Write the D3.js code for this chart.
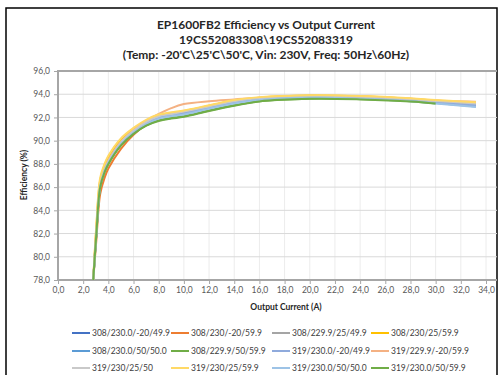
<!DOCTYPE html>
<html>
<head>
<meta charset="utf-8">
<script src="https://d3js.org/d3.v7.min.js"></script>
<style>
  body { margin: 0; background: #fff; }
  text { font-family: Lato, "Open Sans", sans-serif; }
</style>
</head>
<body>
<svg width="499" height="375"></svg>
<script>
// output current (A) sample points
var current = [2.8, 3.05, 3.35, 3.7, 4, 5, 6, 7, 8, 9, 10, 12, 14, 16, 20, 24, 28, 30, 33.2];

var names = ["308/230.0/-20/49.9", "308/230/-20/59.9", "308/229.9/25/49.9", "308/230/25/59.9",
             "308/230.0/50/50.0", "308/229.9/50/59.9", "319/230.0/-20/49.9", "319/229.9/-20/59.9",
             "319/230/25/50", "319/230/25/59.9", "319/230.0/50/50.0", "319/230.0/50/59.9"];
var colors = ["#4472C4", "#ED7D31", "#A5A5A5", "#FFC000", "#5B9BD5", "#70AD47",
              "#8FAADC", "#F4B183", "#C9C9C9", "#FFD966", "#9DC3E6", "#70AD47"];

// efficiency (%) per series
var s1  = [78.0, 82.2, 86.2, 87.5, 88.2, 89.8, 90.8, 91.5, 92.0, 92.2, 92.4, 92.9, 93.35, 93.6, 93.8, 93.72, 93.5, 93.35, 93.1];
var s2  = [78.0, 81.5, 85.4, 86.8, 87.6, 89.3, 90.5, 91.4, 92.0, 92.25, 92.45, 92.95, 93.4, 93.65, 93.82, 93.75, 93.55, 93.4, 93.2];
var s3  = [78.0, 82.0, 86.1, 87.4, 88.1, 89.8, 90.8, 91.55, 92.05, 92.25, 92.45, 92.95, 93.35, 93.65, 93.82, 93.75, 93.55, 93.4, 93.15];
var s4  = [78.0, 82.6, 86.6, 87.9, 88.6, 90.1, 91.0, 91.7, 92.15, 92.35, 92.55, 93.0, 93.45, 93.7, 93.88, 93.82, 93.62, 93.45, 93.25];
var s5  = [78.0, 82.1, 86.1, 87.4, 88.1, 89.7, 90.7, 91.45, 91.95, 92.15, 92.3, 92.8, 93.25, 93.55, 93.75, 93.65, 93.45, 93.25, 92.95];
var s6  = [78.0, 82.0, 86.0, 87.3, 88.0, 89.6, 90.6, 91.3, 91.75, 91.95, 92.1, 92.6, 93.05, 93.4, 93.62, 93.58, 93.4, 93.2, null];
var s7  = [78.0, 82.1, 86.1, 87.4, 88.1, 89.7, 90.75, 91.5, 92.0, 92.2, 92.35, 92.85, 93.3, 93.6, 93.78, 93.7, 93.5, 93.3, 93.05];
var s8  = [78.0, 82.3, 86.3, 87.6, 88.3, 89.9, 90.9, 91.7, 92.3, 92.8, 93.15, 93.4, 93.55, 93.7, 93.85, 93.8, 93.6, 93.45, 93.35];
var s9  = [78.0, 82.2, 86.2, 87.5, 88.2, 89.85, 90.85, 91.6, 92.1, 92.3, 92.5, 92.95, 93.4, 93.65, 93.85, 93.78, 93.58, 93.42, 93.2];
var s10 = [78.0, 82.8, 86.8, 88.0, 88.7, 90.2, 91.1, 91.8, 92.25, 92.45, 92.6, 93.05, 93.5, 93.75, 93.9, 93.85, 93.65, 93.5, 93.3];
var s11 = [78.0, 82.1, 86.1, 87.4, 88.1, 89.7, 90.7, 91.4, 91.9, 92.1, 92.25, 92.75, 93.2, 93.5, 93.72, 93.62, 93.4, 93.2, 92.9];
var s12 = [78.0, 82.0, 86.0, 87.3, 88.0, 89.6, 90.6, 91.3, 91.7, 91.9, 92.05, 92.55, 93.0, 93.38, 93.6, 93.55, 93.38, 93.2, null];
var series = [s1, s2, s3, s4, s5, s6, s7, s8, s9, s10, s11, s12];

var xTicks = d3.range(0, 35, 2);
var yTicks = d3.range(78, 97, 2);

var svg = d3.select("svg");
var fmt = function(d) { return d3.format(".1f")(d).replace(".", ","); };

var pLeft = 58, pTop = 71, pBottom = 280, pRight = 497;
var x = d3.scaleLinear().domain([0, 34]).range([pLeft, 486]);
var y = d3.scaleLinear().domain([78, 96]).range([pBottom, pTop]);

// outer frame
svg.append("rect").attr("x", 6).attr("y", 8).attr("width", 491).attr("height", 380)
  .attr("fill", "#fff").attr("stroke", "#000").attr("stroke-width", 1.5);

// gridlines
svg.append("g").selectAll("line").data(xTicks.slice(1)).enter().append("line")
  .attr("x1", d => x(d)).attr("x2", d => x(d)).attr("y1", pTop).attr("y2", pBottom)
  .attr("stroke", "#ECECEC").attr("stroke-width", 1);
svg.append("g").selectAll("line").data(yTicks.slice(1, -1)).enter().append("line")
  .attr("x1", pLeft).attr("x2", pRight).attr("y1", d => y(d)).attr("y2", d => y(d))
  .attr("stroke", "#D9D9D9").attr("stroke-width", 1);

// title
var title = ["EP1600FB2 Efficiency vs Output Current", "19CS52083308\\19CS52083319",
             "(Temp: -20'C\\25'C\\50'C, Vin: 230V, Freq: 50Hz\\60Hz)"];
svg.append("g").selectAll("text").data(title).enter().append("text")
  .attr("x", 266).attr("y", (d, i) => 28.5 + i * 15)
  .attr("text-anchor", "middle").attr("font-size", 12).attr("font-weight", "bold")
  .attr("fill", "#262626").text(d => d);

// axes
var yAxis = svg.append("g").attr("transform", "translate(" + pLeft + ",0)")
  .call(d3.axisLeft(y).tickValues(yTicks).tickFormat(fmt).tickSize(4).tickPadding(4));
var xAxis = svg.append("g").attr("transform", "translate(0," + pBottom + ")")
  .call(d3.axisBottom(x).tickValues(xTicks).tickFormat(fmt).tickSize(4).tickPadding(3));
[xAxis, yAxis].forEach(function(a) {
  a.select(".domain").remove();
  a.selectAll("line").attr("stroke", "#A6A6A6");
  a.selectAll("text").attr("fill", "#595959").attr("font-size", 8.5)
    .style("font-family", "Lato, sans-serif");
});
// plot border lines (top, left, bottom)
svg.append("path")
  .attr("d", "M" + pRight + "," + pTop + "H" + pLeft + "V" + pBottom + "H" + pRight)
  .attr("fill", "none").attr("stroke", "#A6A6A6").attr("stroke-width", 2);

// axis titles
svg.append("text").attr("x", 286).attr("y", 310).attr("text-anchor", "middle")
  .attr("font-size", 8.5).attr("font-weight", "bold").attr("fill", "#262626")
  .text("Output Current (A)");
svg.append("text").attr("transform", "translate(27,175) rotate(-90)").attr("text-anchor", "middle")
  .attr("font-size", 8.5).attr("font-weight", "bold").attr("fill", "#262626")
  .text("Efficiency (%)");

// series lines
var line = d3.line()
  .defined(d => d[1] != null)
  .x(d => x(d[0])).y(d => y(d[1]))
  .curve(d3.curveCatmullRom.alpha(0.5));
svg.append("g").selectAll("path").data(series).enter().append("path")
  .attr("d", s => line(s.map((v, i) => [current[i], v])))
  .attr("fill", "none").attr("stroke", (s, i) => colors[i]).attr("stroke-width", 2);

// legend
var colX = [72, 171, 272, 371], rowY = [333, 351, 368];
var lg = svg.append("g").selectAll("g").data(names).enter().append("g")
  .attr("transform", (d, i) => "translate(" + colX[i % 4] + "," + rowY[Math.floor(i / 4)] + ")");
lg.append("line").attr("x1", 0).attr("x2", 18).attr("y1", 0).attr("y2", 0)
  .attr("stroke", (d, i) => colors[i]).attr("stroke-width", 2);
lg.append("text").attr("x", 20).attr("y", 3).attr("font-size", 8.5).attr("fill", "#404040")
  .text(d => d);
</script>
</body>
</html>
